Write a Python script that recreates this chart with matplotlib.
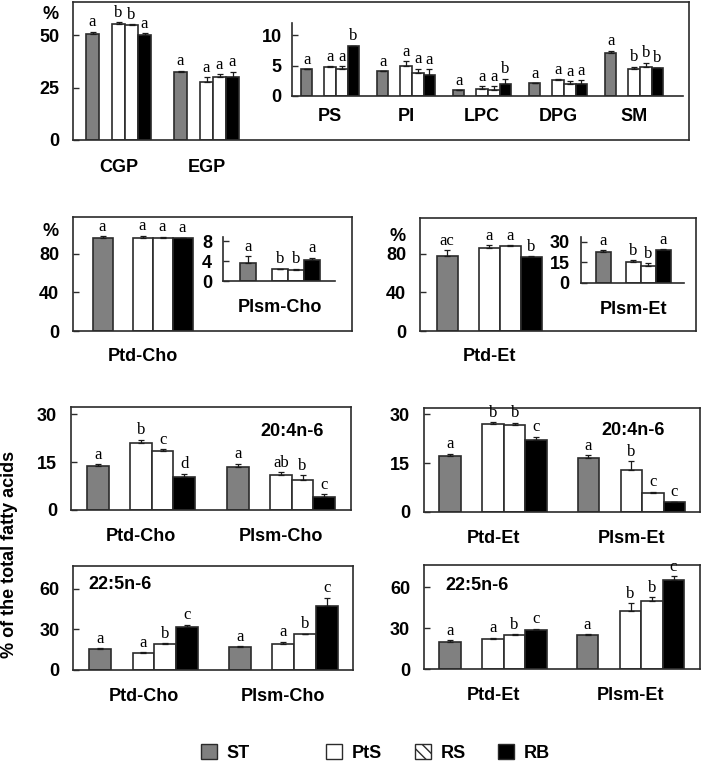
import matplotlib
matplotlib.use("Agg")
import matplotlib.pyplot as plt
from matplotlib.patches import Patch
import numpy as np

plt.rcParams["font.family"] = ["Liberation Sans", "DejaVu Sans"]
plt.rcParams["font.weight"] = "bold"
plt.rcParams["font.size"] = 13
plt.rcParams["hatch.linewidth"] = 1.0

series = ["ST", "PtS", "RS", "RB"]
bar_colors = ["#808080", "white", "white", "black"]
legend_hatch = ["", "", "\\\\\\", ""]

# phospholipid classes (% of total)
class_groups = ["CGP", "EGP"]
class_mean = [[50.8, 55.3, 54.9, 50.3], [32.7, 27.8, 30.2, 30.0]]
class_err = [[1.0, 1.0, 0.4, 0.8], [0.4, 2.2, 1.2, 2.7]]
class_sig = [["a", "b", "b", "a"], ["a", "a", "a", "a"]]

minor_groups = ["PS", "PI", "LPC", "DPG", "SM"]
minor_mean = [[4.35, 4.8, 4.35, 8.2], [4.1, 4.95, 3.7, 3.35], [0.93, 1.1, 0.93, 1.9],
              [2.1, 2.6, 2.0, 1.9], [7.0, 4.4, 4.8, 4.55]]
minor_err = [[0.0, 0.1, 0.5, 0.1], [0.0, 0.8, 0.8, 1.0], [0.0, 0.5, 0.66, 0.9],
             [0.0, 0.15, 0.4, 0.66], [0.45, 0.4, 0.66, 0.1]]
minor_sig = [["a", "a", "a", "b"], ["a", "a", "a", "a"], ["a", "a", "a", "b"],
             ["a", "a", "a", "a"], ["a", "b", "b", "b"]]

# choline / ethanolamine subclasses
ptdcho_mean = [[95.9, 96.6, 96.6, 95.9]]
ptdcho_err = [[2.0, 2.0, 1.0, 0.7]]
ptdcho_sig = [["a", "a", "a", "a"]]
plsmcho_mean = [[3.6, 2.5, 2.3, 4.3]]
plsmcho_err = [[1.4, 0.0, 0.2, 0.4]]
plsmcho_sig = [["a", "b", "b", "a"]]

ptdet_mean = [[77.9, 85.9, 88.3, 76.5]]
ptdet_err = [[6.0, 3.5, 0.7, 1.0]]
ptdet_sig = [["ac", "a", "a", "b"]]
plsmet_mean = [[22.2, 14.9, 12.2, 23.9]]
plsmet_err = [[1.7, 1.7, 2.0, 0.7]]
plsmet_sig = [["a", "b", "b", "a"]]

# fatty acids (% of total fatty acids)
cho_groups = ["Ptd-Cho", "Plsm-Cho"]
et_groups = ["Ptd-Et", "Plsm-Et"]

aa_cho_mean = [[13.75, 21.1, 18.5, 10.4], [13.5, 11.1, 9.3, 4.2]]
aa_cho_err = [[0.7, 1.0, 0.6, 1.0], [1.0, 0.7, 1.6, 0.8]]
aa_cho_sig = [["a", "b", "c", "d"], ["a", "ab", "b", "c"]]

aa_et_mean = [[17.3, 27.1, 26.7, 22.2], [16.5, 12.8, 5.9, 2.9]]
aa_et_err = [[0.6, 0.5, 0.7, 1.0], [1.0, 2.7, 0.3, 0.2]]
aa_et_sig = [["a", "b", "b", "c"], ["a", "b", "c", "c"]]

dpa_cho_mean = [[15.5, 12.5, 19.0, 32.0], [17.0, 19.0, 26.3, 47.5]]
dpa_cho_err = [[0.7, 0.7, 0.7, 1.5], [0.7, 2.0, 0.7, 6.0]]
dpa_cho_sig = [["a", "a", "b", "c"], ["a", "a", "b", "c"]]

dpa_et_mean = [[20.0, 22.4, 25.1, 29.0], [25.1, 42.9, 50.2, 65.0]]
dpa_et_err = [[1.5, 0.7, 0.7, 0.7], [0.7, 5.5, 2.5, 3.0]]
dpa_et_sig = [["a", "a", "b", "c"], ["a", "b", "b", "c"]]

W, H = 703, 761
fig = plt.figure(figsize=(W / 100, H / 100), dpi=100)
EDGE = "#2b2b2b"


def add_ax(x0, x1, top, bottom):
    return fig.add_axes([x0 / W, 1 - bottom / H, (x1 - x0) / W, (bottom - top) / H])


def draw_bars(ax, means, errs, sigs, bw):
    means = np.array(means)
    errs = np.array(errs)
    offsets = np.array([-2, 0, 1, 2]) * bw
    idx = np.arange(len(means))
    for i, color in enumerate(bar_colors):
        x = idx + offsets[i]
        ax.bar(x, means[:, i], width=bw, color=color, edgecolor=EDGE, linewidth=1.2, zorder=2)
        ax.errorbar(x, means[:, i], yerr=[np.zeros(len(idx)), errs[:, i]], fmt="none",
                    ecolor="#1a1a1a", elinewidth=0.9, capsize=2, capthick=0.9, zorder=3)
        for xi, m, e, g in zip(x, means[:, i], errs[:, i], sigs):
            ax.annotate(g[i], (xi, m + e), xytext=(0, 1), textcoords="offset points",
                        ha="center", va="bottom", family="Liberation Serif",
                        weight="normal", fontsize=12)


def style(ax, xlim, ylim, yticks, labels, label_pad, tick_pad=10, inset=False):
    ax.set_xlim(xlim)
    ax.set_ylim(ylim)
    ax.set_yticks(yticks)
    ax.set_xticks(range(len(labels)))
    ax.set_xticklabels(labels)
    ax.tick_params(axis="x", length=0, pad=label_pad)
    ax.tick_params(axis="y", direction="in", length=4, width=1, pad=tick_pad, color=EDGE)
    for sp in ax.spines.values():
        sp.set_color(EDGE)
        sp.set_linewidth(1.2)
    if inset:
        ax.spines[["top", "right"]].set_visible(False)
        ax.patch.set_visible(False)


def percent(ax, y, pad=10):
    ax.annotate("%", (0, y), xycoords=ax.get_yaxis_transform(), xytext=(-pad, 0),
                textcoords="offset points", ha="right", va="center")


# row 1: phospholipid classes
ax = add_ax(73, 689, 2, 140)
draw_bars(ax, class_mean, class_err, class_sig, 13 / 88)
style(ax, ((73 - 118.5) / 88, (689 - 118.5) / 88), (0, 66), [0, 25, 50], class_groups, 14)
percent(ax, 60)

ax = add_ax(292, 683, 23.3, 95.7)
draw_bars(ax, minor_mean, minor_err, minor_sig, 11.7 / 76)
style(ax, ((292 - 330) / 76, (683 - 330) / 76), (0, 12), [0, 5, 10], minor_groups, 9,
      tick_pad=7.5, inset=True)

# row 2: Ptd / Plsm subclasses
ax = add_ax(73, 352, 217, 331)
draw_bars(ax, ptdcho_mean, ptdcho_err, ptdcho_sig, 20 / 140)
style(ax, ((73 - 142.5) / 140, (352 - 142.5) / 140), (0, 118), [0, 40, 80], ["Ptd-Cho"], 12.3)
percent(ax, 102.6)

ax = add_ax(223.3, 335, 237.3, 281)
draw_bars(ax, plsmcho_mean, plsmcho_err, plsmcho_sig, 16 / 140)
style(ax, ((223.3 - 280.3) / 140, (335 - 280.3) / 140), (0, 8.75), [0, 4, 8], ["Plsm-Cho"], 13.3,
      tick_pad=8, inset=True)

ax = add_ax(420, 696, 218, 331)
draw_bars(ax, ptdet_mean, ptdet_err, ptdet_sig, 21 / 140)
style(ax, ((420 - 489.2) / 140, (696 - 489.2) / 140), (0, 117.4), [0, 40, 80], ["Ptd-Et"], 12.3)
percent(ax, 98)

ax = add_ax(580.7, 684, 237.3, 282.7)
draw_bars(ax, plsmet_mean, plsmet_err, plsmet_sig, 15 / 140)
style(ax, ((580.7 - 633.2) / 140, (684 - 633.2) / 140), (0, 33.2), [0, 15, 30], ["Plsm-Et"], 13.3,
      tick_pad=8, inset=True)

# row 3: 20:4n-6
ax = add_ax(71, 351, 407.3, 510)
draw_bars(ax, aa_cho_mean, aa_cho_err, aa_cho_sig, 21.5 / 140)
style(ax, (-0.501, 1.499), (0, 32.2), [0, 15, 30], cho_groups, 13)
ax.text(0.79, 0.76, "20:4n-6", transform=ax.transAxes, ha="center", va="center")

ax = add_ax(424, 700, 408.3, 511.7)
draw_bars(ax, aa_et_mean, aa_et_err, aa_et_sig, 21.5 / 138.2)
style(ax, (-0.501, 1.496), (0, 31.9), [0, 15, 30], et_groups, 13)
ax.text(0.757, 0.79, "20:4n-6", transform=ax.transAxes, ha="center", va="center")

# row 4: 22:5n-6
ax = add_ax(73.3, 353.5, 566, 670)
draw_bars(ax, dpa_cho_mean, dpa_cho_err, dpa_cho_sig, 21.7 / 139.8)
style(ax, (-0.502, 1.502), (0, 77), [0, 30, 60], cho_groups, 13)
ax.text(0.053, 0.82, "22:5n-6", transform=ax.transAxes, ha="left", va="center")

ax = add_ax(424, 700, 565, 669.3)
draw_bars(ax, dpa_et_mean, dpa_et_err, dpa_et_sig, 21.5 / 137.5)
style(ax, (-0.502, 1.505), (0, 76.3), [0, 30, 60], et_groups, 13)
ax.text(0.076, 0.80, "22:5n-6", transform=ax.transAxes, ha="left", va="center")

fig.text(10 / W, 1 - 554 / H, "% of the total fatty acids", rotation=90, ha="center", va="center")

# legend entries placed one by one (uneven spacing in the original)
legend_x = [201, 326, 415, 498]
for name, color, hatch, x in zip(series, bar_colors, legend_hatch, legend_x):
    h = Patch(facecolor=color, edgecolor=EDGE, hatch=hatch, linewidth=1)
    fig.legend(handles=[h], labels=[name], loc="center left", bbox_to_anchor=(x / W, 1 - 753 / H),
               frameon=False, borderpad=0, borderaxespad=0, handlelength=0.9,
               handleheight=0.9, handletextpad=0.5)

fig.savefig("out.png", dpi=100)
